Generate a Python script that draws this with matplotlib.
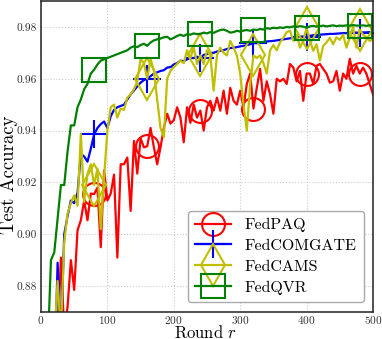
import numpy as np
import matplotlib
matplotlib.use("Agg")
import matplotlib.pyplot as plt

rounds = list(range(0, 501, 5))

fedqvr = [0.50, 0.75, 0.855, 0.890, 0.893, 0.906, 0.919, 0.919, 0.932, 0.942,
          0.942, 0.949, 0.952, 0.956, 0.958, 0.962, 0.9635, 0.9655, 0.967, 0.9675,
          0.968, 0.9685, 0.969, 0.9695, 0.970, 0.9705, 0.971, 0.972, 0.9725, 0.9722,
          0.973, 0.9735, 0.9727, 0.974, 0.9748, 0.9752, 0.9755, 0.976, 0.9762, 0.9752,
          0.9758, 0.9765, 0.977, 0.9765, 0.9772, 0.977, 0.9775, 0.9772, 0.9773, 0.9778,
          0.9775, 0.978, 0.9777, 0.9783, 0.9788, 0.979, 0.9785, 0.9778, 0.978, 0.9785,
          0.9782, 0.9786, 0.9788, 0.9785, 0.979, 0.9788, 0.9792, 0.979, 0.9795, 0.9793,
          0.9797, 0.9795, 0.9798, 0.9796, 0.980, 0.9798, 0.9802, 0.980, 0.9803, 0.9801,
          0.9797, 0.9802, 0.9804, 0.9801, 0.9803, 0.9805, 0.9802, 0.9804, 0.9806, 0.9803,
          0.9805, 0.9804, 0.9806, 0.9805, 0.9807, 0.9805, 0.9805, 0.9806, 0.9804, 0.9806,
          0.9805]

fedcomgate = [0.50, 0.60, 0.70, 0.80, 0.84, 0.889, 0.860, 0.900, 0.907, 0.913,
              0.912, 0.916, 0.931, 0.930, 0.928, 0.933, 0.9385, 0.941, 0.9425, 0.9435,
              0.941, 0.9455, 0.948, 0.949, 0.9495, 0.950, 0.952, 0.954, 0.9555, 0.957,
              0.9585, 0.9595, 0.960, 0.961, 0.962, 0.9625, 0.963, 0.9633, 0.9643, 0.9645,
              0.9655, 0.966, 0.967, 0.9668, 0.9675, 0.968, 0.968, 0.9685, 0.968, 0.9692,
              0.9695, 0.970, 0.970, 0.9705, 0.9708, 0.971, 0.9715, 0.9718, 0.972, 0.9722,
              0.9725, 0.9727, 0.973, 0.9733, 0.9738, 0.9737, 0.974, 0.9742, 0.9744, 0.9745,
              0.9746, 0.9748, 0.975, 0.9752, 0.9754, 0.9756, 0.9758, 0.976, 0.9762, 0.9763,
              0.976, 0.9766, 0.9768, 0.9769, 0.977, 0.9771, 0.9772, 0.9773, 0.9773, 0.9774,
              0.9775, 0.9776, 0.9776, 0.9777, 0.9778, 0.9778, 0.9777, 0.9779, 0.9779, 0.978,
              0.978]

fedcams = [0.50, 0.60, 0.70, 0.80, 0.86, 0.882, 0.862, 0.897, 0.908, 0.912,
           0.915, 0.911, 0.9388, 0.9125, 0.9233, 0.927, 0.919, 0.9253, 0.902, 0.922,
           0.940, 0.949, 0.950, 0.945, 0.9485, 0.948, 0.9527, 0.954, 0.956, 0.959,
           0.9677, 0.966, 0.960, 0.9677, 0.963, 0.952, 0.941, 0.9375, 0.960, 0.963,
           0.9645, 0.9657, 0.967, 0.966, 0.971, 0.968, 0.972, 0.9657, 0.969, 0.9657,
           0.971, 0.969, 0.9554, 0.969, 0.972, 0.970, 0.969, 0.9746, 0.972, 0.969,
           0.962, 0.950, 0.940, 0.958, 0.969, 0.968, 0.969, 0.966, 0.962, 0.971,
           0.973, 0.971, 0.974, 0.9758, 0.978, 0.9785, 0.9746, 0.977, 0.972, 0.9746,
           0.9797, 0.9746, 0.9708, 0.9733, 0.967, 0.9727, 0.974, 0.9758, 0.9733, 0.976,
           0.975, 0.977, 0.972, 0.976, 0.980, 0.972, 0.979, 0.977, 0.976, 0.9746,
           0.9753]

fedpaq = [0.50, 0.60, 0.70, 0.78, 0.82, 0.86, 0.891, 0.862, 0.872, 0.890,
          0.8785, 0.9015, 0.9054, 0.913, 0.9054, 0.9157, 0.9155, 0.918, 0.895, 0.9246,
          0.913, 0.9157, 0.923, 0.891, 0.927, 0.927, 0.9296, 0.909, 0.936, 0.9234,
          0.937, 0.9335, 0.934, 0.941, 0.9335, 0.927, 0.9335, 0.941, 0.9465, 0.9427,
          0.944, 0.949, 0.945, 0.9355, 0.949, 0.943, 0.950, 0.945, 0.9477, 0.940,
          0.949, 0.9515, 0.9477, 0.9527, 0.9477, 0.9554, 0.9465, 0.9565, 0.9515, 0.950,
          0.9554, 0.949, 0.958, 0.962, 0.9485, 0.9565, 0.9638, 0.9515, 0.959, 0.954,
          0.9465, 0.960, 0.959, 0.960, 0.958, 0.9657, 0.9643, 0.959, 0.963, 0.9515,
          0.962, 0.962, 0.958, 0.965, 0.9657, 0.9638, 0.962, 0.9585, 0.959, 0.963,
          0.9554, 0.962, 0.960, 0.9677, 0.962, 0.965, 0.962, 0.9643, 0.962, 0.958,
          0.954]

labels = ["FedPAQ", "FedCOMGATE", "FedCAMS", "FedQVR"]
xticks = [0, 100, 200, 300, 400, 500]
yticks = [0.88, 0.90, 0.92, 0.94, 0.96, 0.98]

plt.rcParams['font.family'] = 'serif'
plt.rcParams['font.serif'] = ['cmr10', 'DejaVu Serif']
plt.rcParams['mathtext.fontset'] = 'cm'
plt.rcParams['axes.formatter.use_mathtext'] = True

W, H = 382, 339
fig = plt.figure(figsize=(W / 100, H / 100), dpi=100)
L, R, T, B = 41, 373, 1, 312
ax = fig.add_axes([L / W, (H - B) / H, (R - L) / W, (B - T) / H])
pw, ph = R - L, B - T

me = slice(16, None, 16)
styles = [
    (fedpaq, 'red', 'o', 16.5),
    (fedcomgate, 'blue', '+', 20),
    (fedcams, 'y', 'd', 21),
    (fedqvr, 'green', 's', 17),
]
for (vals, c, m, ms), lab in zip(styles, labels):
    ax.plot(rounds, vals, color=c, lw=1.6, marker=m, ms=ms, markevery=me,
            mfc='none', mec=c, mew=1.5, label=lab)

ax.set_xlim(0, 500)
ax.set_ylim(0.87, 0.99)
ax.set_xticks(xticks)
ax.set_yticks(yticks)
ax.set_yticklabels([f"{t:.2f}" for t in yticks])
ax.tick_params(length=0, labelsize=8.2, colors='#333333')
ax.tick_params(axis='x', pad=1.2)
ax.tick_params(axis='y', pad=3)
ax.grid(True, linestyle=':', color='#cccccc', lw=0.8)
for s in ax.spines.values():
    s.set_linewidth(1.1)
    s.set_color('#222222')

ax.set_xlabel("Round $r$", fontsize=12)
ax.xaxis.label.set_verticalalignment('baseline')
ax.xaxis.set_label_coords(0.495, -(337.5 - B) / ph)

ax.set_ylabel("Test Accuracy", fontsize=13.5)
ax.yaxis.label.set_verticalalignment('baseline')
ax.yaxis.set_label_coords((14 - L) / pw, 0.44)

leg = ax.legend(loc='lower right',
                bbox_to_anchor=((364 - L) / pw, (B - 302) / ph),
                borderaxespad=0, fontsize=11.5, handlelength=2.25,
                handletextpad=0.85, labelspacing=0.42, borderpad=0.45,
                framealpha=1, edgecolor='#aaaaaa', fancybox=True)

fig.savefig("out.png", dpi=100)
